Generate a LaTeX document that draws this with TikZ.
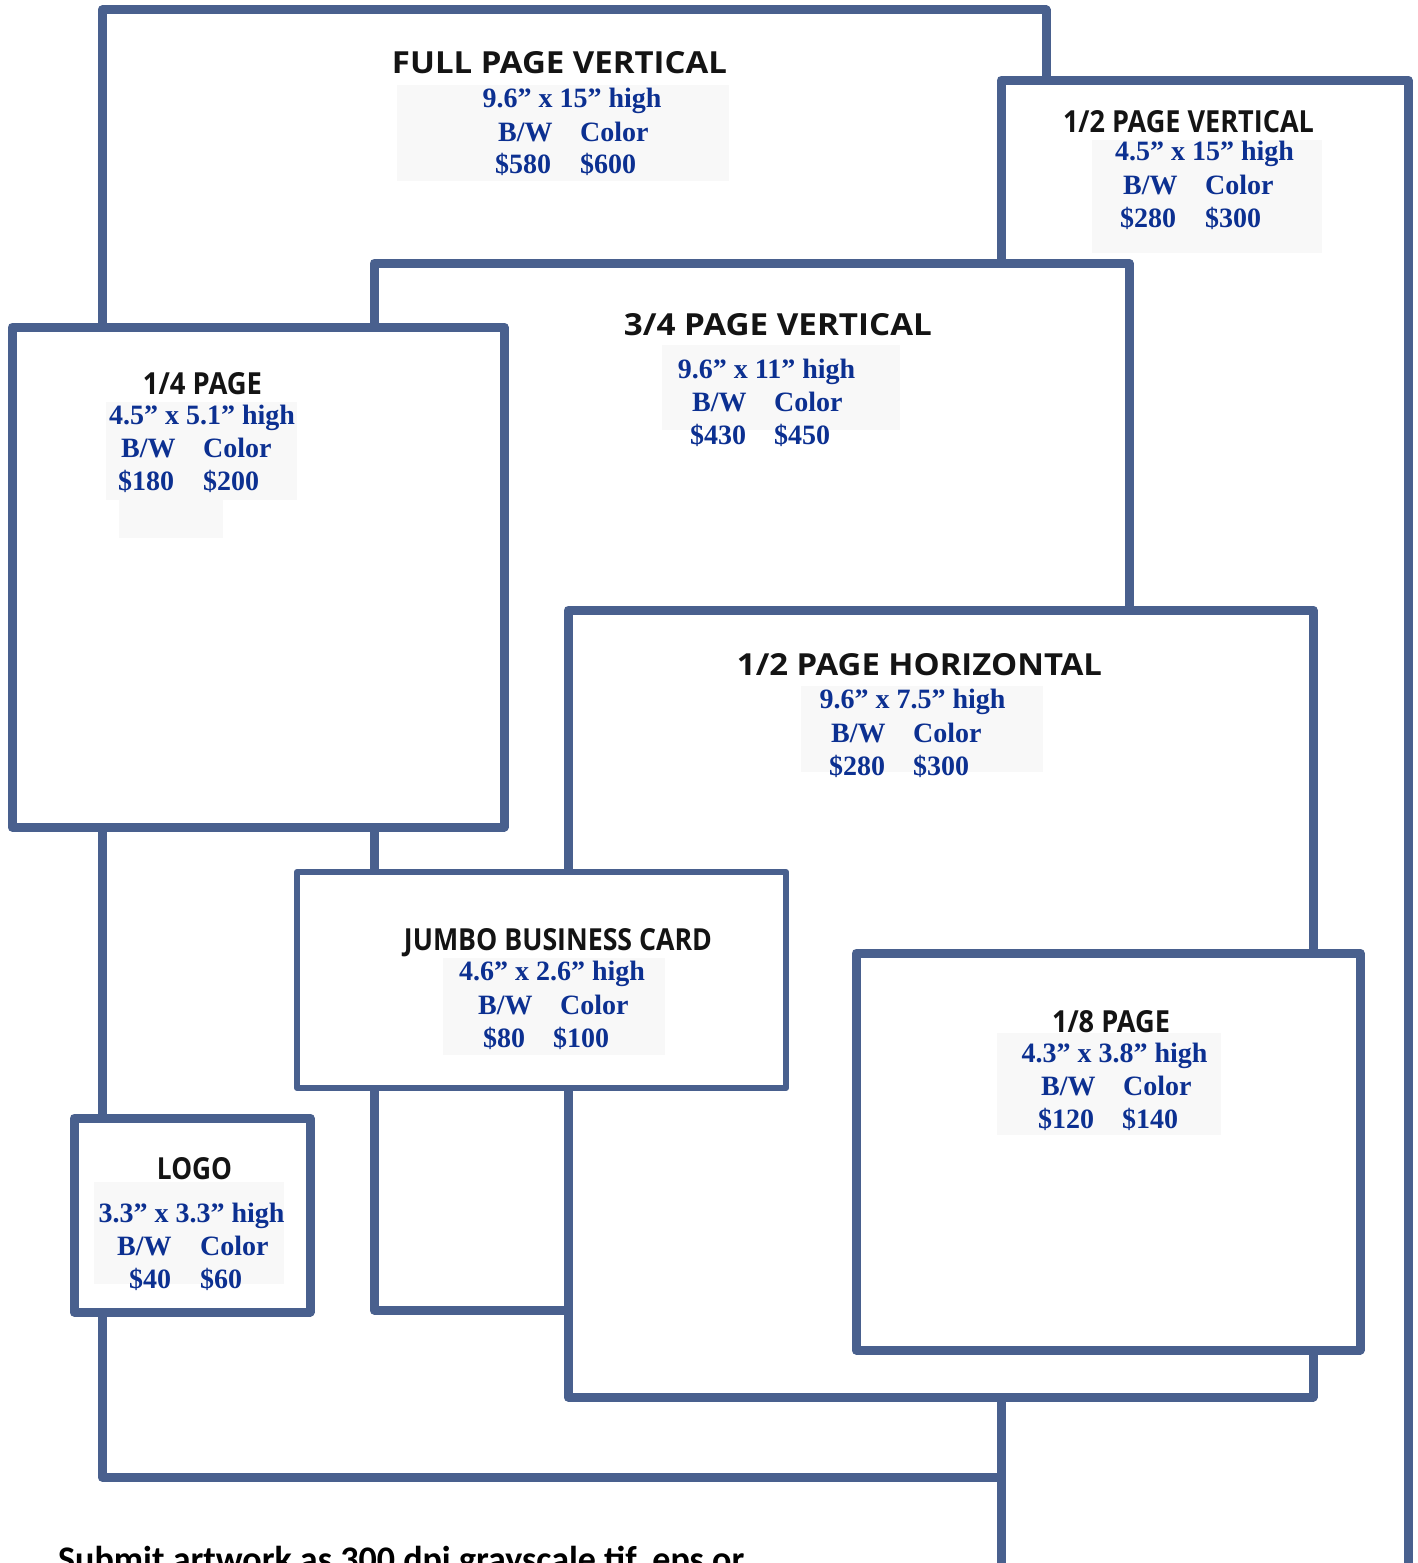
\documentclass[tikz,border=0pt]{standalone}
\usepackage{fontspec}
\usepackage{graphicx}
\newfontfamily\hdfont{Open Sans}
\newfontfamily\bluefont{Liberation Serif}
\newfontfamily\subfont{Carlito}
\definecolor{frame}{RGB}{73,96,142}
\definecolor{ink}{RGB}{12,48,145}
\definecolor{pale}{RGB}{248,248,248}
\tikzset{
  adbox/.style={draw=frame, line width=9pt, fill=white, line join=round},
  thinbox/.style={adbox, line width=6pt},
  hd/.style={inner sep=0pt, anchor=base, text=black!92},
  bl/.style={inner sep=0pt, anchor=base west, text=ink, font=\bluefont\bfseries\fontsize{28}{30}\selectfont},
  blc/.style={bl, anchor=base},
  shade/.style={fill=pale, draw=none},
}
\newcommand\hdtext[3]{\resizebox{#1pt}{#2pt}{\hdfont\bfseries #3}}
\begin{document}
\begin{tikzpicture}[x=1pt,y=-1pt]
\useasboundingbox (0,0) rectangle (1417,1563);
\clip (0,0) rectangle (1417,1563);
\fill[white] (0,0) rectangle (1417,1563);

% FULL PAGE VERTICAL
\draw[adbox] (102,10) rectangle (1046,1477);
\fill[shade] (397,85) rectangle (729,181);
\node[hd] (fpvT) at (559.5,74) {\hdtext{335}{22}{FULL PAGE VERTICAL}};
\node[blc] (fpvA) at (572,107) {9.6” x 15” high};
\node[bl] (fpvB) at (498,141) {B/W};
\node[bl] (fpvC) at (580,141) {Color};
\node[bl] (fpvD) at (495,173) {\$580};
\node[bl] (fpvE) at (580,173) {\$600};

% 1/2 PAGE VERTICAL
\draw[adbox] (1001,80) rectangle (1408,1640);
\fill[shade] (1092,140) rectangle (1322,253);
\node[hd] (hpvT) at (1188.5,132) {\hdtext{251}{22}{1/2 PAGE VERTICAL}};
\node[blc] (hpvA) at (1204.5,160) {4.5” x 15” high};
\node[bl] (hpvB) at (1123,194) {B/W};
\node[bl] (hpvC) at (1205,194) {Color};
\node[bl] (hpvD) at (1120,227) {\$280};
\node[bl] (hpvE) at (1205,227) {\$300};

% 3/4 PAGE VERTICAL
\draw[adbox] (374,263) rectangle (1129,1310);
\fill[shade] (662,345) rectangle (900,430);
\node[hd] (tqvT) at (778,335) {\hdtext{308}{22}{3/4 PAGE VERTICAL}};
\node[blc] (tqvA) at (766.5,378) {9.6” x 11” high};
\node[bl] (tqvB) at (692,411) {B/W};
\node[bl] (tqvC) at (774,411) {Color};
\node[bl] (tqvD) at (690,444) {\$430};
\node[bl] (tqvE) at (774,444) {\$450};

% 1/2 PAGE HORIZONTAL
\draw[adbox] (568,610) rectangle (1313,1397);
\fill[shade] (801,686) rectangle (1043,772);
\node[hd] (hphT) at (919.5,675) {\hdtext{365}{22}{1/2 PAGE HORIZONTAL}};
\node[blc] (hphA) at (912.5,708) {9.6” x 7.5” high};
\node[bl] (hphB) at (831,742) {B/W};
\node[bl] (hphC) at (913,742) {Color};
\node[bl] (hphD) at (829,775) {\$280};
\node[bl] (hphE) at (913,775) {\$300};

% 1/4 PAGE
\draw[adbox] (12,327) rectangle (504,827);
\fill[shade] (106,402) rectangle (297,500);
\fill[shade] (119,500) rectangle (223,538);
\node[hd] (qpT) at (202.5,394) {\hdtext{119}{22}{1/4 PAGE}};
\node[blc] (qpA) at (202,424) {4.5” x 5.1” high};
\node[bl] (qpB) at (121,457) {B/W};
\node[bl] (qpC) at (203,457) {Color};
\node[bl] (qpD) at (118,490) {\$180};
\node[bl] (qpE) at (203,490) {\$200};

% JUMBO BUSINESS CARD
\draw[thinbox] (297,872) rectangle (786,1088);
\fill[shade] (443,958) rectangle (665,1055);
\node[hd] (jbT) at (558,950) {\hdtext{308}{22}{JUMBO BUSINESS CARD}};
\node[blc] (jbA) at (552,980) {4.6” x 2.6” high};
\node[bl] (jbB) at (478,1014) {B/W};
\node[bl] (jbC) at (560,1014) {Color};
\node[bl] (jbD) at (483,1047) {\$80};
\node[bl] (jbE) at (553,1047) {\$100};

% 1/8 PAGE
\draw[adbox] (856,953) rectangle (1360,1350);
\fill[shade] (997,1033) rectangle (1221,1135);
\node[hd] (epT) at (1111,1032) {\hdtext{118}{22}{1/8 PAGE}};
\node[blc] (epA) at (1114.5,1062) {4.3” x 3.8” high};
\node[bl] (epB) at (1041,1095) {B/W};
\node[bl] (epC) at (1123,1095) {Color};
\node[bl] (epD) at (1038,1128) {\$120};
\node[bl] (epE) at (1122,1128) {\$140};

% LOGO
\draw[adbox] (74,1118) rectangle (310,1312);
\fill[shade] (94,1182) rectangle (284,1284);
\node[hd] (lgT) at (194.5,1179) {\hdtext{75}{22}{LOGO}};
\node[blc] (lgA) at (191.5,1222) {3.3” x 3.3” high};
\node[bl] (lgB) at (117,1255) {B/W};
\node[bl] (lgC) at (200,1255) {Color};
\node[bl] (lgD) at (129,1288) {\$40};
\node[bl] (lgE) at (200,1288) {\$60};

% bottom note (cut off by the page edge)
\node[inner sep=0pt, anchor=base west] (note) at (58,1571)
  {\resizebox{686pt}{!}{\subfont\bfseries Submit artwork as 300 dpi grayscale tif, eps or}};
\end{tikzpicture}
\end{document}
